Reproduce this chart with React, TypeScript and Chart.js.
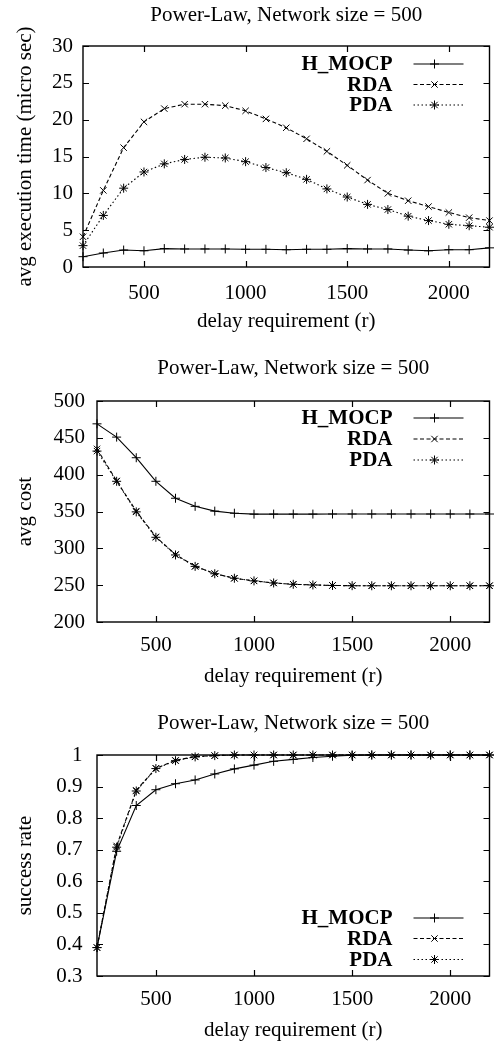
import React, { useEffect, useRef } from "react";
import { Chart, registerables } from "chart.js";
Chart.register(...registerables);

const delayValues = [200, 300, 400, 500, 600, 700, 800, 900, 1000, 1100, 1200, 1300, 1400, 1500, 1600, 1700, 1800, 1900, 2000, 2100, 2200];
const xTickValues = [500, 1000, 1500, 2000];
const seriesNames = ["H_MOCP", "RDA", "PDA"];
const titleText = "Power-Law, Network size = 500";
const xAxisTitle = "delay requirement (r)";

const execHMOCP = [1.4, 1.9, 2.3, 2.2, 2.5, 2.45, 2.45, 2.45, 2.4, 2.4, 2.35, 2.4, 2.4, 2.5, 2.45, 2.45, 2.3, 2.2, 2.35, 2.35, 2.6];
const execRDA = [4.1, 10.4, 16.2, 19.7, 21.5, 22.1, 22.1, 21.9, 21.2, 20.1, 18.9, 17.4, 15.7, 13.8, 11.8, 10.0, 9.0, 8.2, 7.4, 6.7, 6.3];
const execPDA = [2.9, 7.0, 10.7, 12.9, 14.0, 14.6, 14.9, 14.8, 14.3, 13.5, 12.8, 11.9, 10.6, 9.5, 8.5, 7.8, 6.9, 6.3, 5.8, 5.6, 5.4];
const execTicks = [0, 5, 10, 15, 20, 25, 30];

const costHMOCP = [469, 451, 423, 391, 368, 357, 350.5, 347.7, 346.4, 346.5, 346.5, 346.5, 346.6, 346.6, 346.6, 346.6, 346.6, 346.6, 346.6, 346.6, 346.6];
const costRDA = [435, 391.5, 350.5, 315.6, 291.6, 275.7, 265.7, 259.4, 255.8, 253, 251.2, 250.3, 249.6, 249.3, 249.2, 249.2, 249.2, 249.2, 249.2, 249.2, 249.2];
const costPDA = [432, 391, 349.5, 315, 291, 275.5, 265.5, 259.4, 255.8, 253, 251.2, 250.3, 249.6, 249.3, 249.2, 249.2, 249.2, 249.2, 249.2, 249.2, 249.2];
const costTicks = [200, 250, 300, 350, 400, 450, 500];

const successHMOCP = [0.39, 0.695, 0.84, 0.89, 0.909, 0.921, 0.94, 0.956, 0.968, 0.98, 0.986, 0.992, 0.996, 0.999, 1, 1, 1, 1, 1, 1, 1];
const successRDA = [0.39, 0.712, 0.888, 0.958, 0.983, 0.995, 0.998, 1, 1, 1, 1, 1, 1, 1, 1, 1, 1, 1, 1, 1, 1];
const successPDA = [0.39, 0.708, 0.886, 0.957, 0.982, 0.994, 0.998, 1, 1, 1, 1, 1, 1, 1, 1, 1, 1, 1, 1, 1, 1];
const successTicks = [0.3, 0.4, 0.5, 0.6, 0.7, 0.8, 0.9, 1];

const FONT = '"Liberation Serif", "Times New Roman", serif';
const seriesStyles = [
  { dash: [] as number[], point: "cross" },
  { dash: [4, 2.5], point: "crossRot" },
  { dash: [1.5, 2.5], point: "star" },
];

function drawMarker(ctx: CanvasRenderingContext2D, kind: string, x: number, y: number, r: number) {
  ctx.beginPath();
  const d = r * Math.SQRT1_2;
  if (kind === "cross" || kind === "star") {
    ctx.moveTo(x - r, y); ctx.lineTo(x + r, y);
    ctx.moveTo(x, y - r); ctx.lineTo(x, y + r);
  }
  if (kind === "crossRot" || kind === "star") {
    ctx.moveTo(x - d, y - d); ctx.lineTo(x + d, y + d);
    ctx.moveTo(x - d, y + d); ctx.lineTo(x + d, y - d);
  }
  ctx.stroke();
}

const decorPlugin = {
  id: "decor",
  afterDraw(chart: any, _args: any, opts: any) {
    const { ctx, chartArea: a, scales } = chart;
    ctx.save();
    ctx.strokeStyle = "#000";
    ctx.fillStyle = "#000";
    ctx.setLineDash([]);
    ctx.lineWidth = 1.4;
    ctx.strokeRect(a.left, a.top, a.right - a.left, a.bottom - a.top);
    ctx.lineWidth = 1.2;
    const tl = 6;
    ctx.beginPath();
    for (const t of scales.x.ticks) {
      const px = Math.round(scales.x.getPixelForValue(t.value)) + 0.5;
      ctx.moveTo(px, a.bottom); ctx.lineTo(px, a.bottom - tl);
      ctx.moveTo(px, a.top); ctx.lineTo(px, a.top + tl);
    }
    for (const t of scales.y.ticks) {
      const py = Math.round(scales.y.getPixelForValue(t.value)) + 0.5;
      ctx.moveTo(a.left, py); ctx.lineTo(a.left + tl, py);
      ctx.moveTo(a.right, py); ctx.lineTo(a.right - tl, py);
    }
    ctx.stroke();

    // title
    ctx.font = `21px ${FONT}`;
    ctx.textAlign = "center";
    ctx.textBaseline = "middle";
    ctx.fillText(opts.title, (a.left + a.right) / 2, opts.titleY);

    // legend
    ctx.font = `bold 21px ${FONT}`;
    ctx.textAlign = "right";
    chart.data.datasets.forEach((ds: any, i: number) => {
      const y = opts.legendTop ? a.top + opts.legendRows[i] : a.bottom - opts.legendRows[i];
      ctx.fillText(ds.label, a.right - 97, y + 1);
      ctx.lineWidth = 1.1;
      ctx.setLineDash(ds.borderDash || []);
      ctx.beginPath();
      ctx.moveTo(a.right - 76, y);
      ctx.lineTo(a.right - 26, y);
      ctx.stroke();
      ctx.setLineDash([]);
      ctx.lineWidth = 1;
      drawMarker(ctx, ds.pointStyle, a.right - 55, y, 4.5);
    });
    ctx.restore();
  },
};

type PanelProps = {
  height: number;
  top: number;
  plotLeft: number;
  plotTop: number;
  plotBottom: number;
  yMin: number;
  yMax: number;
  yTicks: number[];
  yTitle: string;
  series: number[][];
  titleY: number;
  xTitlePad: number;
  yTitlePad: number;
  xTickPad: number;
  yTickPad: number;
  legendTop: boolean;
  legendRows: number[];
  decimals: boolean;
};

function Panel(p: PanelProps) {
  const ref = useRef<HTMLCanvasElement>(null);
  useEffect(() => {
    if (!ref.current) return;
    const chart = new Chart(ref.current, {
      type: "line",
      data: {
        datasets: p.series.map((vals, i) => ({
          label: seriesNames[i],
          data: delayValues.map((x, j) => ({ x, y: vals[j] })),
          borderColor: "#000",
          backgroundColor: "#000",
          borderWidth: 1.1,
          borderDash: seriesStyles[i].dash,
          pointStyle: seriesStyles[i].point as any,
          pointRadius: 4.5,
          pointBorderWidth: 1,
          pointBorderColor: "#000",
          tension: 0,
          fill: false,
          clip: false as any,
        })),
      },
      options: {
        responsive: false,
        animation: false,
        events: [],
        layout: { padding: { top: p.plotTop, right: 4, left: 0, bottom: 0 } },
        plugins: {
          legend: { display: false },
          tooltip: { enabled: false },
          title: { display: false },
          decor: { title: titleText, titleY: p.titleY, legendTop: p.legendTop, legendRows: p.legendRows },
        } as any,
        scales: {
          x: {
            type: "linear",
            min: 200,
            max: 2200,
            grid: { display: false, drawTicks: false },
            border: { display: false },
            afterBuildTicks: (s: any) => { s.ticks = xTickValues.map((v) => ({ value: v })); },
            afterFit: (s: any) => { s.height = p.height - p.plotBottom; },
            ticks: {
              color: "#000",
              font: { family: FONT, size: 21 },
              padding: p.xTickPad,
              maxRotation: 0,
              autoSkip: false,
              callback: (v: any) => String(v),
            },
            title: { display: true, text: xAxisTitle, color: "#000", font: { family: FONT, size: 21 }, padding: { top: 0, bottom: p.xTitlePad } },
          },
          y: {
            type: "linear",
            min: p.yMin,
            max: p.yMax,
            grid: { display: false, drawTicks: false },
            border: { display: false },
            afterBuildTicks: (s: any) => { s.ticks = p.yTicks.map((v) => ({ value: v })); },
            afterFit: (s: any) => { s.width = p.plotLeft; },
            ticks: {
              color: "#000",
              font: { family: FONT, size: 21 },
              padding: p.yTickPad,
              autoSkip: false,
              callback: (v: any) => (p.decimals ? String(Number(Number(v).toFixed(1))) : String(v)),
            },
            title: { display: true, text: p.yTitle, color: "#000", font: { family: FONT, size: 21 }, padding: { top: p.yTitlePad, bottom: 0 } },
          },
        },
      } as any,
      plugins: [decorPlugin],
    });
    return () => chart.destroy();
  }, []);
  return (
    <canvas
      ref={ref}
      width={495}
      height={p.height}
      style={{ position: "absolute", left: 0, top: p.top, width: 495, height: p.height, display: "block" }}
    />
  );
}

export default function App() {
  return (
    <div style={{ position: "absolute", left: 0, top: 0, width: 495, height: 1046, background: "#fff" }}>
      <Panel
        top={0} height={340} plotLeft={83} plotTop={46} plotBottom={267}
        yMin={0} yMax={30} yTicks={execTicks} yTitle="avg execution time (micro sec)"
        series={[execHMOCP, execRDA, execPDA]}
        titleY={15} xTitlePad={5.5} yTitlePad={12.4} xTickPad={14} yTickPad={10}
        legendTop={true} legendRows={[18, 38.5, 59]} decimals={false}
      />
      <Panel
        top={340} height={350} plotLeft={97} plotTop={61} plotBottom={282}
        yMin={200} yMax={500} yTicks={costTicks} yTitle="avg cost"
        series={[costHMOCP, costRDA, costPDA]}
        titleY={28} xTitlePad={0.5} yTitlePad={12.4} xTickPad={10.5} yTickPad={12}
        legendTop={true} legendRows={[17, 38, 59]} decimals={false}
      />
      <Panel
        top={690} height={356} plotLeft={97} plotTop={65} plotBottom={286}
        yMin={0.3} yMax={1} yTicks={successTicks} yTitle="success rate"
        series={[successHMOCP, successRDA, successPDA]}
        titleY={33} xTitlePad={3.4} yTitlePad={12.4} xTickPad={10.5} yTickPad={14.5}
        legendTop={false} legendRows={[58, 37.5, 16.5]} decimals={true}
      />
    </div>
  );
}
